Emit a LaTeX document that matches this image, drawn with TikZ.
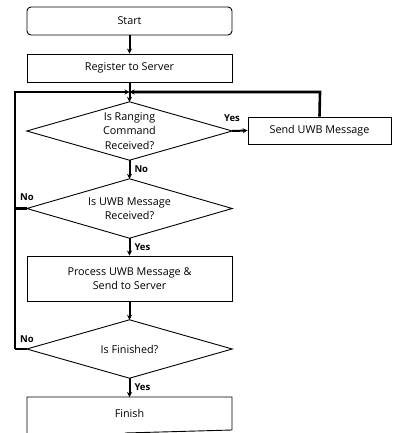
\documentclass[tikz,border=0pt]{standalone}
\usepackage{fontspec}
\setmainfont{Open Sans}
\usetikzlibrary{arrows.meta}
\begin{document}
\begin{tikzpicture}[x=1pt,y=-1pt,
  every node/.style={font=\fontsize{10.8}{14.5}\selectfont, inner sep=0pt, align=center},
  procbox/.style={draw, line width=0.9pt, minimum width=205pt, minimum height=28pt},
  decbox/.style={minimum width=205pt, minimum height=58pt},
  dia/.style={draw, line width=0.9pt},
  conn/.style={line width=2pt, -{Stealth[length=5pt,width=5pt]}},
  loopline/.style={line width=2.6pt},
  lab/.style={font=\fontsize{9.5}{10}\selectfont\bfseries}]
\useasboundingbox (0,0) rectangle (392,433);

\node[procbox, rounded corners=4pt] (start) at (129.5,21) {Start};
\node[procbox] (reg) at (129.5,68) {Register to Server};
\node[decbox] (d1) at (129.5,131) {Is Ranging\\Command\\Received?};
\draw[dia] (d1.north) -- (d1.east) -- (d1.south) -- (d1.west) -- cycle;
\node[procbox, minimum width=143pt, minimum height=27pt] (send) at (319.5,130.5) {Send UWB Message};
\node[decbox, minimum height=59pt] (d2) at (129.5,208.5) {Is UWB Message\\Received?};
\draw[dia] (d2.north) -- (d2.east) -- (d2.south) -- (d2.west) -- cycle;
\node[procbox, minimum height=45pt] (proc) at (129.5,278.5) {Process UWB Message \&\\Send to Server};
\node[decbox] (d3) at (129.5,349) {Is Finished?};
\draw[dia] (d3.north) -- (d3.east) -- (d3.south) -- (d3.west) -- cycle;
\node (fin) at (129.5,413) {Finish};
\draw[line width=0.9pt] (27,433) -- (27,397) -- (232,397) -- (232,430) -- (125,433);

\coordinate (merge) at (129.5,92);
\coordinate (lt) at (15,92);
\coordinate (rt) at (320,92);
\coordinate (l2) at (15,208.5);
\coordinate (l3) at (15,349);
\coordinate (finTop) at (129.5,397);

% connectors
\draw[conn] (start.south) -- (reg.north);
\draw[conn] (reg.south) -- (d1.north);
\draw[conn] (d1.east) -- (send.west);
\node[lab] at (232,118) {Yes};
\draw[conn] (d1.south) -- node[lab, right=4pt] {No} (d2.north);
\draw[conn] (d2.south) -- node[lab, right=4pt] {Yes} (proc.north);
\draw[conn] (proc.south) -- (d3.north);
\draw[conn] (d3.south) -- node[lab, right=4pt] {Yes} (finTop);

% loops
\draw[loopline] (d2.west) -- (l2);
\draw[loopline] (d3.west) -- (l3);
\draw[loopline, line join=miter, -{Stealth[length=5pt,width=5pt]}] (l3) -- (lt) -- (merge);
\draw[loopline, line join=miter, -{Stealth[length=5pt,width=5pt]}] (send.north) -- (rt) -- (merge);
\node[lab] at (27,197) {No};
\node[lab] at (27,339) {No};
\end{tikzpicture}
\end{document}
